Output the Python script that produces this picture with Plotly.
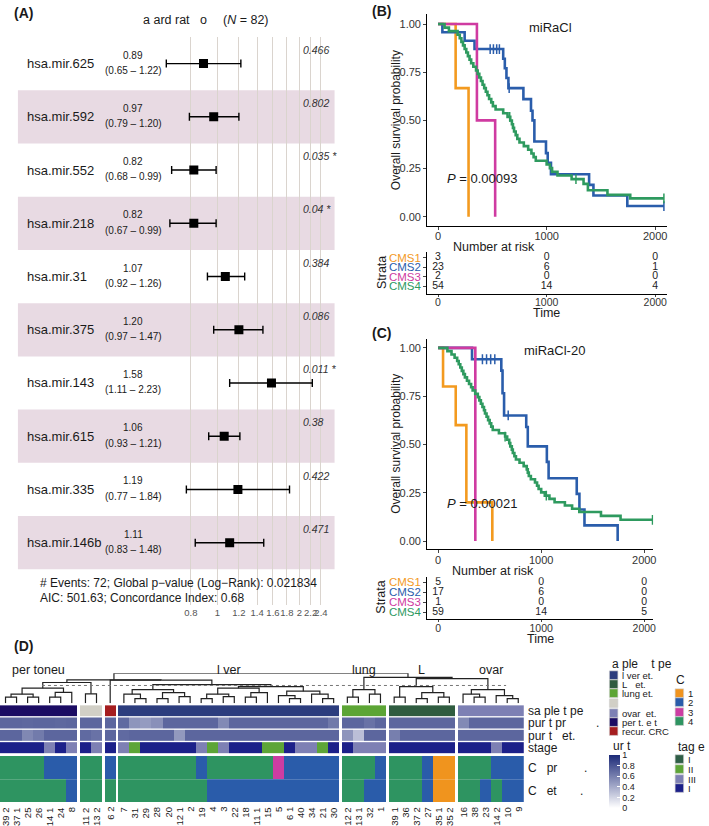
import plotly.graph_objects as go

W, H = 709, 826
FONT = "Liberation Sans, Arial, Helvetica, sans-serif"


def px(x):
    return x / W


def py(y):
    return 1 - y / H


# ---------------- Panel A: forest plot data ----------------
mirnas = ["hsa.mir.625", "hsa.mir.592", "hsa.mir.552", "hsa.mir.218", "hsa.mir.31",
          "hsa.mir.375", "hsa.mir.143", "hsa.mir.615", "hsa.mir.335", "hsa.mir.146b"]
hr = [0.89, 0.97, 0.82, 0.82, 1.07, 1.20, 1.58, 1.06, 1.19, 1.11]
hr_lo = [0.65, 0.79, 0.68, 0.67, 0.92, 0.97, 1.11, 0.93, 0.77, 0.83]
hr_hi = [1.22, 1.20, 0.99, 0.99, 1.26, 1.47, 2.23, 1.21, 1.84, 1.48]
pvals = ["0.466", "0.802", "0.035 *", "0.04 *", "0.384", "0.086", "0.011 *", "0.38", "0.422", "0.471"]
hr_ticks = [0.8, 1, 1.2, 1.4, 1.6, 1.8, 2, 2.2, 2.4]
hr_ticktext = ["0.8", "1", "1.2", "1.4", "1.6", "1.8", "2", "2.2", "2.4"]
forest_footer = ["# Events: 72; Global p\u2212value (Log\u2212Rank): 0.021834",
                 "AIC: 501.63; Concordance Index: 0.68"]

# ---------------- Panel B / C: Kaplan-Meier data ----------------
strata = ["CMS1", "CMS2", "CMS3", "CMS4"]
km_colors = ["#F39A1F", "#2A5DAB", "#CF3BA1", "#2E9A5F"]

B_cms1_t = [0, 162, 281]
B_cms1_s = [1.0, 0.667, 0.0]
B_cms2_t = [0, 40, 245, 336, 600, 615, 630, 648, 786, 856, 870, 887, 994, 1010, 1040, 1391, 1431, 1743, 2080]
B_cms2_s = [1.0, 0.957, 0.913, 0.870, 0.82, 0.77, 0.72, 0.667, 0.61, 0.55, 0.50, 0.39, 0.33, 0.28, 0.22, 0.165, 0.11, 0.055, 0.055]
B_cms3_t = [0, 358, 526]
B_cms3_s = [1.0, 0.5, 0.0]
B_cms4_t = [0, 60, 100, 180, 200, 215, 230, 245, 260, 275, 290, 305, 325, 350, 365, 380, 395, 410, 425, 440,
            455, 470, 490, 505, 530, 600, 640, 665, 680, 690, 700, 715, 730, 750, 790, 830, 860, 880, 900, 1000,
            1030, 1050, 1100, 1230, 1340, 1380, 1560, 1770, 2080]
B_cms4_s = [1.0, 0.981, 0.963, 0.944, 0.926, 0.907, 0.889, 0.870, 0.852, 0.833, 0.815, 0.796, 0.778, 0.759, 0.741,
            0.722, 0.704, 0.685, 0.667, 0.648, 0.630, 0.611, 0.593, 0.574, 0.556, 0.537, 0.518, 0.499, 0.480, 0.461,
            0.442, 0.423, 0.404, 0.385, 0.366, 0.347, 0.328, 0.309, 0.290, 0.271, 0.252, 0.233, 0.214, 0.195, 0.170,
            0.137, 0.113, 0.095, 0.095]
B_censor = [[], [480, 510, 540, 565, 655, 2080], [], [660, 1270, 2080]]
B_risk = [[3, 0, 0], [23, 6, 1], [2, 0, 0], [54, 14, 4]]

C_cms1_t = [0, 48, 171, 274, 526]
C_cms1_s = [1.0, 0.8, 0.6, 0.2, 0.0]
C_cms2_t = [0, 329, 613, 625, 640, 855, 870, 1055, 1072, 1345, 1371, 1420, 1742]
C_cms2_s = [1.0, 0.941, 0.882, 0.765, 0.65, 0.59, 0.49, 0.41, 0.325, 0.244, 0.163, 0.081, 0.0]
C_cms3_t = [0, 361]
C_cms3_s = [1.0, 0.0]
C_cms4_t = [0, 90, 130, 160, 185, 200, 215, 230, 245, 260, 280, 300, 320, 335, 360, 385, 400, 415, 430, 445,
            455, 470, 485, 500, 515, 530, 590, 650, 670, 690, 700, 715, 725, 740, 755, 790, 830, 860, 870, 880,
            900, 940, 960, 975, 1000, 1035, 1080, 1130, 1230, 1300, 1370, 1580, 1770, 2080]
C_cms4_s = [1.0, 0.983, 0.966, 0.949, 0.932, 0.915, 0.898, 0.881, 0.864, 0.847, 0.830, 0.813, 0.796, 0.779, 0.762,
            0.745, 0.728, 0.711, 0.694, 0.677, 0.660, 0.643, 0.626, 0.609, 0.592, 0.575, 0.558, 0.541, 0.524, 0.507,
            0.490, 0.473, 0.456, 0.439, 0.422, 0.405, 0.388, 0.371, 0.354, 0.337, 0.320, 0.303, 0.286, 0.269, 0.252,
            0.235, 0.218, 0.201, 0.184, 0.167, 0.150, 0.130, 0.110, 0.110]
C_censor = [[], [430, 470, 510, 550, 680], [], [650, 1050, 2080]]
C_risk = [[5, 0, 0], [17, 6, 0], [1, 0, 0], [59, 14, 5]]
risk_times = [0, 1000, 2000]

# ---------------- Panel D: heatmap data ----------------
group_names = ["per toneu", "", "", "l ver", "lung", "L", "ovar"]
group_sizes = [7, 2, 1, 20, 4, 6, 6]
col_labels = ["39 2", "37 1", "25", "26", "14 1", "24", "8",
              "11 2", "13 2",
              "6 2",
              "7", "31", "29", "28", "20", "12 1", "2", "19", "4", "3", "22", "18", "11 1", "15", "5", "6 1",
              "40", "34", "21", "30",
              "12 2", "13 1", "32", "1",
              "39 1", "36", "37 2", "27", "35 1", "35 2",
              "16", "38", "23", "14 2", "10", "9"]
# sample type codes: 0 liver met, 1 LN met, 2 lung met, 3 (unlabelled), 4 ovary met, 5 peritoneum met, 6 recur. CRC
sample_type = [5] * 7 + [3] * 2 + [6] + [0] * 20 + [2] * 4 + [1] * 6 + [4] * 6
purity_pred = [0.72, 0.72, 0.71, 0.72, 0.72, 0.71, 0.72,
               0.72, 0.72,
               0.72,
               0.70, 0.50, 0.47, 0.52, 0.72, 0.72, 0.72, 0.72, 0.72, 0.55, 0.72, 0.72, 0.72, 0.72, 0.72, 0.72,
               0.72, 0.72, 0.72, 0.63,
               0.72, 0.72, 0.66, 0.72,
               0.72, 0.72, 0.72, 0.72, 0.72, 0.72,
               0.55, 0.72, 0.72, 0.72, 0.72, 0.72]
purity_est = [0.72, 0.72, 0.56, 0.62, 0.72, 0.72, 0.72,
              0.70, 0.66,
              0.72,
              0.70, 0.72, 0.72, 0.72, 0.72, 0.48, 0.72, 0.72, 0.72, 0.72, 0.72, 0.72, 0.72, 0.72, 0.72, 0.72,
              0.72, 0.72, 0.72, 0.72,
              0.50, 0.30, 0.72, 0.72,
              0.60, 0.72, 0.72, 0.72, 0.72, 0.72,
              0.72, 0.72, 0.72, 0.72, 0.72, 0.72]
stage = [4, 4, 4, 4, 3, 4, 3,
         4, 3,
         4,
         3, 2, 4, 4, 4, 4, 4, 3, 2, 3, 4, 4, 4, 2, 2, 4, 3, 3, 2, 4,
         4, 3, 3, 3,
         4, 4, 4, 4, 4, 4,
         4, 4, 4, 3, 4, 4]
cms_pred = [4, 4, 4, 4, 2, 2, 2,
            4, 4,
            2,
            4, 4, 4, 4, 4, 4, 4, 2, 4, 4, 4, 4, 4, 4, 3, 2, 2, 2, 2, 2,
            4, 4, 4, 2,
            4, 4, 4, 2, 1, 1,
            4, 4, 4, 2, 2, 2]
cms_est = [4, 4, 4, 4, 4, 4, 2,
           4, 4,
           4,
           4, 4, 4, 4, 4, 4, 4, 4, 2, 2, 2, 2, 2, 2, 2, 2, 2, 2, 2, 2,
           4, 4, 2, 2,
           4, 4, 4, 2, 1, 1,
           4, 4, 2, 4, 2, 2]
row_names = ["sa ple t pe", "pur t pr\u00a0\u00a0\u00a0\u00a0\u00a0\u00a0\u00a0\u00a0\u00a0.",
             "pur t\u00a0\u00a0\u00a0et.", "stage",
             "C\u00a0\u00a0\u00a0pr\u00a0\u00a0\u00a0\u00a0\u00a0\u00a0\u00a0\u00a0.",
             "C\u00a0\u00a0\u00a0et\u00a0\u00a0\u00a0\u00a0\u00a0\u00a0\u00a0."]
sample_labels = ["l ver et.", "L\u00a0\u00a0\u00a0et.", "lung et.", "", "ovar\u00a0\u00a0et.", "per t. e t", "recur. CRC"]
sample_colors = ["#2C3D7E", "#2F5C40", "#5CA535", "#D1CFC6", "#7D80B4", "#1B0C63", "#A51D1F"]
stage_labels = ["I", "II", "III", "I"]
stage_colors = ["#2F5E46", "#5DA537", "#7E80B4", "#1C2089"]
cms_labels = ["1", "2", "3", "4"]
cms_colors = ["#F0941E", "#2A5CAA", "#CC3DA2", "#2E9461"]
purity_ticks = [0, 0.2, 0.4, 0.6, 0.8, 1]
cut_height = 0.59
# dendrogram: (merge height, left, right); leaves are column indices
peri_tree = (0.5, (0.3, (0.2, 0, 1), (0.2, 2, 3)), (0.36, (0.2, 4, 5), 6))
grey_tree = (0.31, 7, 8)
lv1 = (0.45, (0.3, 10, (0.15, 11, 12)), (0.35, (0.15, 13, 14), (0.22, 15, 16)))
lv2 = (0.5, (0.3, (0.15, 17, 18), (0.22, 19, 20)), (0.35, (0.2, 21, 22), 23))
lv3 = (0.4, (0.25, 24, (0.15, 25, 26)), (0.3, 27, (0.15, 28, 29)))
liver_tree = (0.62, lv1, (0.55, lv2, lv3))
lung_tree = (0.45, (0.2, 30, 31), (0.3, 32, 33))
ln_tree = (0.55, (0.2, 34, 35), (0.35, (0.15, 36, 37), (0.2, 38, 39)))
ov_tree = (0.45, (0.3, 40, (0.2, 41, 42)), (0.25, 43, (0.15, 44, 45)))
dendro_tree = (1.0,
               (0.78, (0.69, peri_tree, grey_tree), (0.77, 9, liver_tree)),
               (0.86, lung_tree, (0.82, ln_tree, ov_tree)))

fig = go.Figure()
ann = []
shapes = []


def note(text, x, y, size=12, xref="paper", yref="paper", xanchor="center", yanchor="middle",
         color="#1a1a1a", angle=0):
    if xref == "paper":
        x = px(x)
    if yref == "paper":
        y = py(y)
    ann.append(dict(text=text, x=x, y=y, xref=xref, yref=yref, xanchor=xanchor, yanchor=yanchor,
                    showarrow=False, textangle=angle, font=dict(size=size, color=color, family=FONT)))


# ================= Panel A =================
rows = list(range(1, len(mirnas) + 1))
for i in rows:
    if i % 2 == 0:
        shapes.append(dict(type="rect", xref="paper", yref="y", x0=px(18), x1=px(336), y0=i - 0.5, y1=i + 0.5,
                           fillcolor="#E8DAE3", line=dict(width=0), layer="below"))
shapes.append(dict(type="line", xref="x", yref="y", x0=0, x1=0, y0=0.5, y1=11.175,
                   line=dict(color="#555", width=1.3, dash="dot"), layer="above"))
fig.add_trace(go.Scatter(
    x=hr, y=rows, xaxis="x", yaxis="y", mode="markers",
    marker=dict(symbol="square", size=9, color="black"),
    error_x=dict(type="data", symmetric=False,
                 array=[h - m for m, h in zip(hr, hr_hi)],
                 arrayminus=[m - l for m, l in zip(hr, hr_lo)],
                 color="black", thickness=1.4, width=4),
    showlegend=False, hoverinfo="skip"))
for i, name, m, lo, hi, p in zip(rows, mirnas, hr, hr_lo, hr_hi, pvals):
    note(name, 25, i, size=13, yref="y", xanchor="left")
    note(f"{m:.2f}", 134, i - 0.16, size=10, yref="y")
    note(f"({lo:.2f} \u2013 {hi:.2f})", 134, i + 0.13, size=10, yref="y")
    note(f"<i>{p}</i>", 302, i - 0.26, size=10.5, yref="y", xanchor="left", color="#333")
note("<b>(A)</b>", 12, 12, size=14, xanchor="left")
note("a ard rat\u00a0\u00a0\u00a0o", 176, 19, size=12.5)
note("(<i>N</i> = 82)", 247, 19, size=12.5)
note(forest_footer[0], 38, 583, size=12, xanchor="left")
note(forest_footer[1], 38, 598, size=12, xanchor="left")


# ================= Panels B, C =================
def surv_at(ts, ss, t):
    v = ss[0]
    for tt, s in zip(ts, ss):
        if tt <= t:
            v = s
    return v


def add_km(curves, censors, xa, ya):
    for k in range(len(curves)):
        ts, ss = curves[k]
        fig.add_trace(go.Scatter(x=ts, y=ss, xaxis=xa, yaxis=ya, mode="lines", line_shape="hv",
                                 line=dict(color=km_colors[k], width=2.6), showlegend=False, hoverinfo="skip"))
        if censors[k]:
            fig.add_trace(go.Scatter(x=censors[k], y=[surv_at(ts, ss, t) for t in censors[k]], xaxis=xa, yaxis=ya,
                                     mode="markers",
                                     marker=dict(symbol="line-ns", size=7, line=dict(width=1.5, color=km_colors[k])),
                                     showlegend=False, hoverinfo="skip"))


add_km([(B_cms1_t, B_cms1_s), (B_cms2_t, B_cms2_s), (B_cms3_t, B_cms3_s), (B_cms4_t, B_cms4_s)], B_censor, "x2", "y2")
add_km([(C_cms1_t, C_cms1_s), (C_cms2_t, C_cms2_s), (C_cms3_t, C_cms3_s), (C_cms4_t, C_cms4_s)], C_censor, "x4", "y4")


def add_risk(risk, xa, ya):
    xs, ys, tx = [], [], []
    for k, vals in enumerate(risk):
        for t, v in zip(risk_times, vals):
            xs.append(t)
            ys.append(k + 1)
            tx.append(str(v))
    fig.add_trace(go.Scatter(x=xs, y=ys, xaxis=xa, yaxis=ya, mode="text", text=tx,
                             textfont=dict(size=10.5, color="#222", family=FONT),
                             showlegend=False, hoverinfo="skip"))


add_risk(B_risk, "x3", "y3")
add_risk(C_risk, "x5", "y5")

note("<b>(B)</b>", 372, 10, size=14, xanchor="left")
note("miRaCl", 1037, 0.98, size=13, xref="x2", yref="y2")
note("<i>P</i> = 0.00093", 64, 0.20, size=13, xref="x2", yref="y2", xanchor="left")
note("Overall survival probability", 398, 119, size=12, angle=-90)
note("Number at risk", 453, 246, size=12.5, xanchor="left")
note("Strata", 383, 272, size=12.5, angle=-90)
note("Time", 549, 312, size=12.5)

note("<b>(C)</b>", 372, 332, size=14, xanchor="left")
note("miRaCl-20", 1130, 0.986, size=13, xref="x4", yref="y4")
note("<i>P</i> = 0.00021", 68, 0.195, size=13, xref="x4", yref="y4", xanchor="left")
note("Overall survival probability", 398, 443, size=12, angle=-90)
note("Number at risk", 452, 571, size=12.5, xanchor="left")
note("Strata", 383, 597, size=12.5, angle=-90)
note("Time", 543, 639, size=12.5)

# ================= Panel D =================
GAP = 0.24
x_edges = [0.0]
col_centers = []
gap_after = []
cur = 0.0
for gi, n in enumerate(group_sizes):
    for j in range(n):
        col_centers.append(cur + 0.5)
        cur += 1
        x_edges.append(cur)
    if gi < len(group_sizes) - 1:
        cur += GAP
        x_edges.append(cur)
        gap_after.append(len(col_centers))
x_total = cur


def with_gaps(vals):
    out = []
    for idx, v in enumerate(vals):
        out.append(v)
        if (idx + 1) in gap_after:
            out.append(None)
    return out


def stepscale(colors):
    n = len(colors)
    sc = []
    for k, c in enumerate(colors):
        sc.append([k / n, c])
        sc.append([(k + 1) / n, c])
    return sc


purity_scale = [[0, "#FFFFFF"], [1, "#1C2A78"]]
row_edges = [[0, 0.92], [1.0, 1.92], [2.0, 2.92], [3.0, 3.92], [4.12, 6.0], [6.0, 7.85]]
hm_rows = [
    (sample_type, stepscale(sample_colors), -0.5, 6.5, False),
    (purity_pred, purity_scale, 0, 1, True),
    (purity_est, purity_scale, 0, 1, False),
    (stage, stepscale(stage_colors), 0.5, 4.5, False),
    (cms_pred, stepscale(cms_colors), 0.5, 4.5, False),
    (cms_est, stepscale(cms_colors), 0.5, 4.5, False),
]
for (vals, cs, zmin, zmax, bar), ye in zip(hm_rows, row_edges):
    tr = dict(z=[with_gaps(vals)], x=x_edges, y=ye, xaxis="x6", yaxis="y6", colorscale=cs,
              zmin=zmin, zmax=zmax, showscale=bar, hoverinfo="skip")
    if bar:
        tr["colorbar"] = dict(x=px(612), xanchor="left", y=py(755), yanchor="top", len=53 / H, lenmode="fraction",
                              thickness=11, thicknessmode="pixels", xpad=0, ypad=0, outlinewidth=0,
                              tickvals=purity_ticks, ticktext=[f"{v:g}" for v in purity_ticks],
                              ticks="inside", ticklen=3, tickcolor="white",
                              tickfont=dict(size=9, color="#222", family=FONT))
    fig.add_trace(go.Heatmap(**tr))

# dendrogram
seg_x, seg_y = [], []


def walk(node):
    if isinstance(node, int):
        return col_centers[node], 0.0
    h, l, r = node
    xl, hl = walk(l)
    xr, hr_ = walk(r)
    seg_x.extend([xl, xl, xr, xr, None])
    seg_y.extend([hl, h, h, hr_, None])
    return (xl + xr) / 2, h


walk(dendro_tree)
fig.add_trace(go.Scatter(x=seg_x, y=seg_y, xaxis="x7", yaxis="y7", mode="lines",
                         line=dict(color="#222", width=1.2), showlegend=False, hoverinfo="skip"))
fig.add_trace(go.Scatter(x=[col_centers[3] + 0.3, x_total - 1.6], y=[cut_height, cut_height], xaxis="x7", yaxis="y7",
                         mode="lines", line=dict(color="#777", width=1, dash="dot"), showlegend=False,
                         hoverinfo="skip"))

# cluster labels
start = 0
for name, n in zip(group_names, group_sizes):
    if name:
        cx = (col_centers[start] + col_centers[start + n - 1]) / 2
        note(name, cx, 670, size=12.5, xref="x6")
    start += n

# column labels
for cx, lab in zip(col_centers, col_labels):
    note(lab, cx, 805, size=9.5, xref="x6", yanchor="top", angle=-90)

# row labels
for name, ye in zip(row_names, row_edges):
    ym = (ye[0] + ye[1]) / 2
    note(name, 528, ym, size=12, yref="y6", xanchor="left")

note("<b>(D)</b>", 12, 646, size=14, xanchor="left")


# legends
def legend_block(title, tx, ty, labels, colors, ys, sx, size_t=12):
    note(title, tx, ty, size=size_t, xanchor="left")
    for lab, c, yy in zip(labels, colors, ys):
        shapes.append(dict(type="rect", xref="paper", yref="paper", x0=px(sx), x1=px(sx + 8.5),
                           y0=py(yy + 4.3), y1=py(yy - 4.3), fillcolor=c, line=dict(width=0.6, color="#ccc")))
        if lab:
            note(lab, sx + 10.5, yy, size=9.5, xanchor="left")


legend_block("a ple\u00a0\u00a0\u00a0\u00a0t pe", 613, 664, sample_labels, sample_colors,
             [675, 684, 693, 703, 713, 722, 731], 612)
legend_block("C", 677, 680, cms_labels, cms_colors, [693, 702, 712, 721], 678)
legend_block("tag e", 679, 747, stage_labels, stage_colors, [759, 769, 779, 788], 678)
note("ur t", 614, 746, size=12, xanchor="left")

ax_common = dict(showgrid=False, zeroline=False, fixedrange=True)
km_x = dict(tickvals=risk_times, ticks="outside", ticklen=3, showline=True, linecolor="black", linewidth=1,
            tickangle=0, ticklabelstandoff=-3, tickfont=dict(size=11, color="#333", family=FONT), **ax_common)
risk_x = dict(tickvals=risk_times, ticks="outside", ticklen=2, showline=True, linecolor="black", linewidth=1,
              tickangle=0, ticklabelstandoff=-3, tickfont=dict(size=10.5, color="#333", family=FONT), **ax_common)
km_y = dict(tickvals=[0, 0.25, 0.5, 0.75, 1], ticktext=["0.00", "0.25", "0.50", "0.75", "1.00"],
            ticks="outside", ticklen=3, showline=True, linecolor="black", linewidth=1,
            tickfont=dict(size=11, color="#333", family=FONT), **ax_common)
risk_y = dict(tickvals=[1, 2, 3, 4],
              ticktext=[f"<span style='color:{c}'>{s}</span>" for s, c in zip(strata, km_colors)],
              ticks="outside", ticklen=3, showline=True, linecolor="black", linewidth=1,
              tickfont=dict(size=11.5, family=FONT), **ax_common)

fig.update_layout(
    width=W, height=H, margin=dict(l=0, r=0, t=0, b=0),
    paper_bgcolor="white", plot_bgcolor="rgba(0,0,0,0)", showlegend=False,
    font=dict(family=FONT, color="#1a1a1a"),
    xaxis=dict(domain=[px(150), px(336)], type="log", range=[-0.2492, 0.4301], tickvals=hr_ticks,
               ticktext=hr_ticktext, tickangle=0, showgrid=True, gridcolor="#DAD4CE", gridwidth=1, zeroline=False,
               showline=False, ticks="", tickfont=dict(size=9.5, color="#555"), anchor="y", fixedrange=True),
    yaxis=dict(domain=[py(605), py(36)], range=[11.175, 0.5], visible=False, fixedrange=True),
    xaxis2=dict(domain=[px(429), px(670)], range=[-100, 2110], anchor="y2", **km_x),
    yaxis2=dict(domain=[py(225), py(13)], range=[-0.047, 1.052], anchor="x2", **km_y),
    xaxis3=dict(domain=[px(429), px(670)], range=[-100, 2110], anchor="y3", **risk_x),
    yaxis3=dict(domain=[py(293), py(251)], range=[4.75, 0.4], anchor="x3", **risk_y),
    xaxis4=dict(domain=[px(429), px(656)], range=[-106, 2087], anchor="y4", **km_x),
    yaxis4=dict(domain=[py(549), py(338)], range=[-0.043, 1.048], anchor="x4", **km_y),
    xaxis5=dict(domain=[px(429), px(656)], range=[-106, 2087], anchor="y5", **risk_x),
    yaxis5=dict(domain=[py(619), py(577)], range=[4.68, 0.5], anchor="x5", **risk_y),
    xaxis6=dict(domain=[0, px(526)], range=[0, x_total], visible=False, anchor="y6", fixedrange=True),
    yaxis6=dict(domain=[py(802), py(705)], range=[7.85, 0], visible=False, anchor="x6", fixedrange=True),
    xaxis7=dict(domain=[0, px(526)], range=[0, x_total], visible=False, anchor="y7", fixedrange=True),
    yaxis7=dict(domain=[py(703), py(673)], range=[0, 1.0], visible=False, anchor="x7", fixedrange=True),
    annotations=ann, shapes=shapes,
)

fig.write_html("out.html", config={"displayModeBar": False},
               post_script="document.body.style.margin='0';document.body.style.overflow='hidden';")
